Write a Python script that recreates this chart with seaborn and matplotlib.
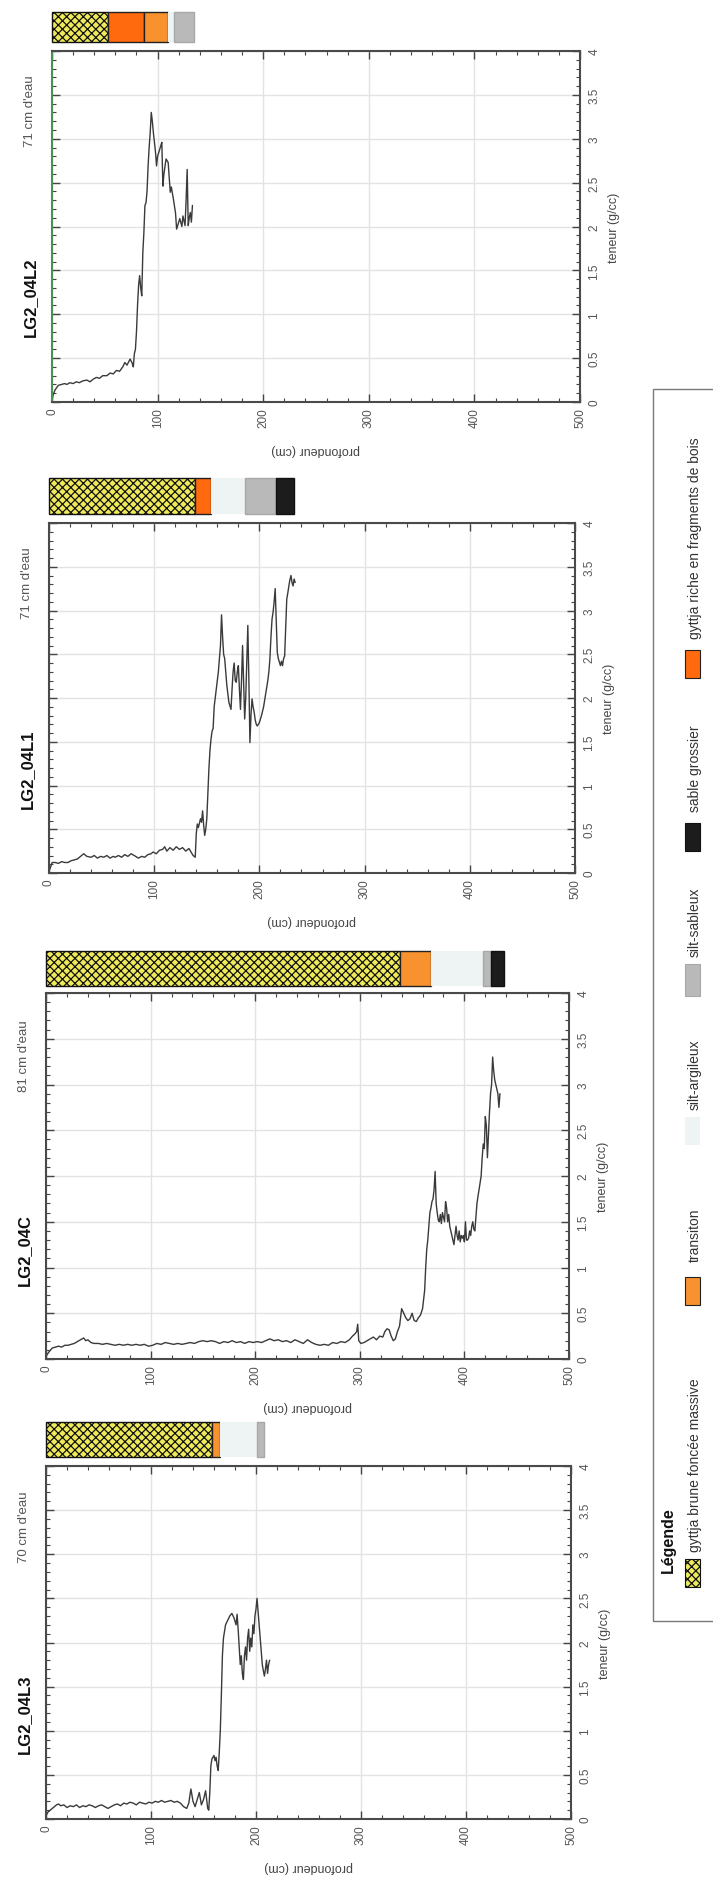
import numpy as np
import matplotlib
matplotlib.use("Agg")
import matplotlib.pyplot as plt
import seaborn as sns
from matplotlib.patches import Rectangle
from matplotlib.ticker import MultipleLocator, FuncFormatter

# ---------------- data ----------------
cores = ["LG2_04L2", "LG2_04L1", "LG2_04C", "LG2_04L3"]
water = ["71 cm d'eau", "71 cm d'eau", "81 cm d'eau", "70 cm d'eau"]

depth_L2 = [0, 1, 3, 6, 9, 12, 14, 17, 20, 23, 26, 29, 33, 36, 39, 42, 45, 48, 52, 55, 58, 61, 64, 67, 69, 71, 74, 76,
            77, 78, 79, 80, 81, 82, 83, 84, 85, 86, 87, 88, 89, 90, 91, 92, 93, 94, 95, 96, 97, 98, 99, 100, 102, 103,
            104, 105, 106, 108, 110, 112, 113, 115, 117, 118, 120, 121, 123, 124, 126, 127, 128, 129, 130, 131, 132, 133]
ten_L2 = [0.02, 0.08, 0.14, 0.19, 0.20, 0.21, 0.20, 0.22, 0.21, 0.23, 0.22, 0.24, 0.25, 0.23, 0.26, 0.28, 0.27, 0.30,
          0.30, 0.33, 0.32, 0.36, 0.35, 0.40, 0.45, 0.42, 0.49, 0.44, 0.40, 0.55, 0.60, 0.80, 1.10, 1.33, 1.44, 1.30,
          1.21, 1.70, 1.93, 2.24, 2.27, 2.40, 2.69, 2.90, 3.07, 3.30, 3.20, 3.07, 2.96, 2.85, 2.69, 2.80, 2.88, 2.92,
          2.96, 2.46, 2.60, 2.77, 2.73, 2.39, 2.45, 2.31, 2.15, 1.97, 2.05, 2.09, 2.00, 2.12, 2.01, 2.30, 2.65, 2.01,
          2.10, 2.16, 2.05, 2.24]

depth_L1 = [0, 1, 3, 6, 9, 12, 15, 18, 21, 24, 27, 30, 33, 36, 40, 43, 46, 49, 52, 55, 58, 61, 63, 66, 69, 72, 75, 78,
            81, 85, 88, 91, 94, 97, 99, 102, 105, 108, 110, 112, 115, 118, 121, 124, 127, 130, 133, 135, 137, 139, 140,
            141, 142, 144, 145, 146, 147, 148, 149, 150, 151, 152, 153, 154, 155, 156, 157, 158, 160, 161, 162, 163,
            164, 165, 166, 167, 168, 169, 170, 171, 173, 174, 175, 176, 177, 178, 179, 180, 181, 182, 183, 184, 185,
            186, 187, 188, 189, 190, 191, 192, 193, 194, 195, 196, 197, 198, 200, 202, 204, 206, 208, 209, 210, 211,
            212, 213, 214, 215, 216, 217, 218, 220, 221, 222, 223, 224, 225, 226, 227, 228, 229, 230, 231, 232, 233, 234]
ten_L1 = [0.03, 0.05, 0.12, 0.12, 0.11, 0.13, 0.12, 0.12, 0.14, 0.15, 0.16, 0.19, 0.22, 0.19, 0.18, 0.20, 0.17, 0.19,
          0.18, 0.20, 0.17, 0.19, 0.18, 0.20, 0.18, 0.21, 0.19, 0.22, 0.20, 0.17, 0.19, 0.18, 0.21, 0.22, 0.24, 0.22,
          0.26, 0.27, 0.30, 0.25, 0.29, 0.26, 0.30, 0.27, 0.29, 0.25, 0.28, 0.24, 0.20, 0.18, 0.45, 0.56, 0.52, 0.62,
          0.58, 0.71, 0.55, 0.43, 0.50, 0.62, 0.90, 1.19, 1.40, 1.53, 1.62, 1.65, 1.90, 2.00, 2.20, 2.30, 2.45, 2.60,
          2.95, 2.70, 2.50, 2.45, 2.30, 2.15, 2.05, 1.95, 1.87, 2.10, 2.30, 2.40, 2.20, 2.18, 2.30, 2.37, 2.10, 1.87,
          2.20, 2.60, 2.20, 1.76, 2.00, 2.40, 2.83, 2.20, 1.49, 1.80, 1.99, 1.90, 1.84, 1.75, 1.70, 1.68, 1.72, 1.80,
          1.90, 2.05, 2.20, 2.30, 2.45, 2.70, 2.90, 2.98, 3.10, 3.25, 2.90, 2.52, 2.45, 2.37, 2.42, 2.37, 2.45, 2.48,
          2.80, 3.13, 3.20, 3.28, 3.35, 3.40, 3.32, 3.28, 3.36, 3.32]

depth_C = [0, 3, 6, 9, 12, 15, 18, 21, 24, 27, 30, 33, 36, 38, 40, 43, 46, 50, 54, 58, 62, 66, 70, 74, 78, 82, 86, 90,
           94, 98, 102, 106, 110, 114, 118, 122, 126, 130, 134, 138, 142, 146, 150, 154, 158, 162, 166, 170, 174, 178,
           182, 186, 190, 194, 198, 202, 206, 210, 214, 218, 222, 226, 230, 234, 238, 242, 246, 250, 254, 258, 262,
           266, 270, 274, 278, 282, 286, 290, 293, 295, 297, 298, 299, 301, 304, 307, 310, 313, 316, 319, 322, 324,
           326, 328, 330, 332, 334, 336, 338, 340, 342, 344, 346, 348, 350, 352, 354, 356, 358, 360, 362, 363, 364,
           365, 366, 367, 368, 369, 370, 371, 372, 373, 374, 375, 376, 377, 378, 379, 380, 381, 382, 383, 384, 385,
           386, 387, 388, 389, 390, 391, 392, 393, 394, 395, 396, 397, 398, 399, 400, 401, 402, 403, 404, 405, 406,
           407, 408, 409, 410, 411, 412, 413, 414, 416, 417, 418, 419, 420, 421, 422, 423, 424, 425, 426, 427, 428,
           429, 430, 431, 432, 433, 434]
ten_C = [0.03, 0.08, 0.12, 0.13, 0.14, 0.13, 0.15, 0.15, 0.16, 0.17, 0.19, 0.21, 0.23, 0.20, 0.21, 0.18, 0.17, 0.17,
         0.16, 0.17, 0.16, 0.15, 0.16, 0.15, 0.16, 0.15, 0.16, 0.15, 0.16, 0.14, 0.15, 0.17, 0.16, 0.18, 0.17, 0.16,
         0.17, 0.16, 0.17, 0.18, 0.17, 0.19, 0.20, 0.19, 0.20, 0.19, 0.17, 0.19, 0.18, 0.20, 0.18, 0.19, 0.17, 0.19,
         0.18, 0.19, 0.18, 0.20, 0.22, 0.20, 0.21, 0.19, 0.20, 0.18, 0.21, 0.19, 0.17, 0.21, 0.18, 0.16, 0.15, 0.16,
         0.15, 0.18, 0.17, 0.19, 0.18, 0.21, 0.25, 0.27, 0.30, 0.38, 0.20, 0.17, 0.18, 0.20, 0.22, 0.24, 0.21, 0.25,
         0.24, 0.30, 0.33, 0.32, 0.25, 0.20, 0.22, 0.30, 0.36, 0.55, 0.50, 0.45, 0.42, 0.44, 0.50, 0.42, 0.41, 0.45,
         0.48, 0.55, 0.75, 1.00, 1.20, 1.30, 1.45, 1.60, 1.65, 1.72, 1.75, 1.85, 2.05, 1.70, 1.60, 1.52, 1.50, 1.58,
         1.48, 1.60, 1.55, 1.50, 1.72, 1.65, 1.50, 1.58, 1.45, 1.40, 1.35, 1.30, 1.25, 1.35, 1.45, 1.35, 1.30, 1.40,
         1.28, 1.35, 1.32, 1.35, 1.28, 1.50, 1.30, 1.30, 1.32, 1.40, 1.35, 1.45, 1.50, 1.42, 1.40, 1.55, 1.70, 1.78,
         1.85, 2.00, 2.20, 2.35, 2.30, 2.65, 2.55, 2.20, 2.45, 2.70, 2.90, 3.00, 3.30, 3.15, 3.05, 3.00, 2.95, 2.90,
         2.75, 2.90]

depth_L3 = [0, 2, 4, 6, 8, 10, 12, 14, 17, 20, 23, 26, 29, 32, 35, 38, 41, 44, 47, 50, 53, 56, 59, 62, 65, 68, 71, 74,
            77, 80, 83, 86, 89, 92, 95, 98, 101, 104, 107, 110, 113, 116, 119, 122, 125, 128, 131, 134, 136, 138, 140,
            142, 144, 146, 148, 150, 152, 154, 155, 156, 157, 158, 160, 161, 162, 163, 164, 165, 166, 167, 168, 169,
            171, 173, 175, 177, 179, 181, 182, 183, 184, 185, 186, 187, 188, 189, 190, 191, 192, 193, 194, 195, 196,
            197, 198, 199, 200, 201, 202, 203, 204, 205, 206, 207, 208, 209, 210, 211, 212, 213]
ten_L3 = [0.04, 0.08, 0.10, 0.12, 0.14, 0.16, 0.17, 0.15, 0.16, 0.13, 0.15, 0.14, 0.16, 0.13, 0.15, 0.14, 0.16, 0.15,
          0.13, 0.15, 0.16, 0.14, 0.12, 0.14, 0.16, 0.17, 0.15, 0.18, 0.17, 0.19, 0.18, 0.16, 0.19, 0.18, 0.17, 0.19,
          0.18, 0.20, 0.19, 0.21, 0.19, 0.20, 0.21, 0.19, 0.20, 0.18, 0.14, 0.12, 0.18, 0.34, 0.20, 0.14, 0.22, 0.30,
          0.16, 0.22, 0.32, 0.12, 0.10, 0.30, 0.60, 0.68, 0.72, 0.66, 0.70, 0.60, 0.55, 0.75, 1.00, 1.40, 1.85, 2.05,
          2.20, 2.25, 2.30, 2.33, 2.28, 2.20, 2.32, 2.15, 1.95, 1.75, 1.85, 1.65, 1.58, 1.85, 1.95, 1.80, 2.05, 2.15,
          1.90, 2.05, 1.95, 2.20, 2.10, 2.30, 2.38, 2.50, 2.35, 2.20, 2.05, 1.90, 1.75, 1.68, 1.62, 1.70, 1.80, 1.65,
          1.75, 1.80]

depths = [depth_L2, depth_L1, depth_C, depth_L3]
tens = [ten_L2, ten_L1, ten_C, ten_L3]

# stratigraphy (top, bottom, unit) in cm
strat_L2 = [(0, 53, "bois0"), (53, 87, "bois"), (87, 110, "trans"), (110, 116, "argil"), (116, 134, "sabl")]
strat_L1 = [(0, 139, "gyttja"), (139, 154, "bois"), (154, 186, "argil"), (186, 216, "sabl"), (216, 233, "sable")]
strat_C = [(0, 338, "gyttja"), (338, 368, "trans"), (368, 418, "argil"), (418, 425, "sabl"), (425, 438, "sable")]
strat_L3 = [(0, 158, "gyttja"), (158, 166, "trans"), (166, 201, "argil"), (201, 208, "sabl")]
strat_L2[0] = (0, 53, "gyttja")
strats = [strat_L2, strat_L1, strat_C, strat_L3]

units = ["gyttja", "trans", "argil", "sabl", "sable", "bois"]
unit_labels = ["gyttja brune foncée massive", "transiton", "silt-argileux", "silt-sableux",
               "sable grossier", "gyttja riche en fragments de bois"]
unit_colors = {"gyttja": "#efea5a", "trans": "#f7922f", "argil": "#eef3f3", "sabl": "#b9b9b9",
               "sable": "#1c1c1c", "bois": "#ff6a0e"}
unit_edges = {"gyttja": "#111111", "trans": "#222222", "argil": "none", "sabl": "#a8a8a8",
              "sable": "#111111", "bois": "#222222"}
unit_hatch = {"gyttja": "xxxx"}

# ---------------- layout (pixels) ----------------
W, H = 713, 1883
ax_boxes = [(52, 52, 580, 403), (49, 524, 575, 874), (46, 994, 569, 1360), (46, 1467, 571, 1820)]
strat_y = [(13, 43), (479, 515), (952, 987), (1423, 1458)]

sns.set_theme(style="white")
plt.rcParams["font.family"] = ["Liberation Sans", "DejaVu Sans"]
plt.rcParams["hatch.linewidth"] = 0.9

fig = plt.figure(figsize=(W / 100, H / 100), dpi=100)
fig.patch.set_facecolor("white")


def rect(x0, y0, x1, y1):
    return [x0 / W, 1 - y1 / H, (x1 - x0) / W, (y1 - y0) / H]


def ftext(x, y, s, **kw):
    fig.text(x / W, 1 - y / H, s, **kw)


def tfmt(v, pos):
    return "0" if abs(v) < 1e-9 else ("%g" % v)


for i in range(4):
    x0, y0, x1, y1 = ax_boxes[i]
    ax = fig.add_axes(rect(x0, y0, x1, y1))
    sns.lineplot(x=depths[i], y=tens[i], ax=ax, color="#3a3a3a", lw=1.0,
                 estimator=None, sort=False, legend=False)
    ax.set_xlim(0, 500)
    ax.set_ylim(0, 4)
    ax.set_xlabel("")
    ax.set_ylabel("")
    ax.xaxis.set_major_locator(MultipleLocator(100))
    ax.xaxis.set_minor_locator(MultipleLocator(20))
    ax.yaxis.set_major_locator(MultipleLocator(0.5))
    ax.yaxis.set_minor_locator(MultipleLocator(0.1))
    ax.yaxis.set_major_formatter(FuncFormatter(tfmt))
    ax.grid(True, which="major", color="#e3e3e3", lw=1.0)
    ax.tick_params(which="both", direction="in", top=True, bottom=True, left=True, right=True,
                   labelbottom=True, labelleft=False, labelright=True, color="#444444")
    ax.tick_params(which="major", length=6, width=1.0)
    ax.tick_params(which="minor", length=3, width=0.8)
    ax.tick_params(axis="x", labelrotation=90, labelsize=8.5, pad=4, labelcolor="#555555")
    ax.tick_params(axis="y", labelrotation=90, labelsize=8.5, pad=6, labelcolor="#555555")
    for lab in ax.get_yticklabels():
        lab.set_va("center")
    for s in ax.spines.values():
        s.set_color("#4a4a4a")
        s.set_linewidth(1.5)
    if i == 0:
        ax.spines["left"].set_color("#4f8f4f")

    cx = (x0 + x1) / 2
    cy = (y0 + y1) / 2
    ftext(x0 - 22, y0 + 0.70 * (y1 - y0), cores[i], rotation=90, ha="center", va="center",
          fontsize=12, fontweight="bold", color="#111111")
    ftext(x0 - 22, y0 + 0.17 * (y1 - y0), water[i], rotation=90, ha="center", va="center",
          fontsize=9.5, color="#555555")
    ftext(cx, y1 + 47, "profondeur (cm)", rotation=180, ha="center", va="center",
          fontsize=9, color="#444444")
    ftext(x1 + 34, cy, "teneur (g/cc)", rotation=90, ha="center", va="center",
          fontsize=9, color="#444444")

    # stratigraphy bar
    sy0, sy1 = strat_y[i]
    axs = fig.add_axes(rect(x0, sy0, x1, sy1))
    axs.set_xlim(0, 500)
    axs.set_ylim(0, 1)
    axs.axis("off")
    for top, bot, u in strats[i]:
        axs.barh(0.5, width=bot - top, left=top, height=1.0, color=unit_colors[u],
                 edgecolor=unit_edges[u], hatch=unit_hatch.get(u), lw=1.0, clip_on=False)

# ---------------- legend ----------------
fig.patches.append(Rectangle((653 / W, 1 - 1622 / H), 80 / W, (1622 - 390) / H,
                             transform=fig.transFigure, fill=False, edgecolor="#7a7a7a", lw=1.0))
ftext(668, 1540, "Légende", rotation=90, ha="center", va="center", fontsize=11.5,
      fontweight="bold", color="#111111")
sw_y = [(1560, 1588), (1278, 1306), (1118, 1146), (965, 997), (824, 852), (651, 679)]
txt_y = [1552, 1262, 1110, 957, 812, 639]
for k, u in enumerate(units):
    a, b = sw_y[k]
    fig.patches.append(Rectangle((685 / W, 1 - b / H), 15 / W, (b - a) / H, transform=fig.transFigure,
                                 facecolor=unit_colors[u],
                                 edgecolor=unit_edges[u] if u != "argil" else "none",
                                 hatch=unit_hatch.get(u), lw=0.8))
    ftext(695, txt_y[k], unit_labels[k], rotation=90, ha="center", va="bottom",
          fontsize=10, color="#333333")

fig.savefig("out.png", dpi=100)
